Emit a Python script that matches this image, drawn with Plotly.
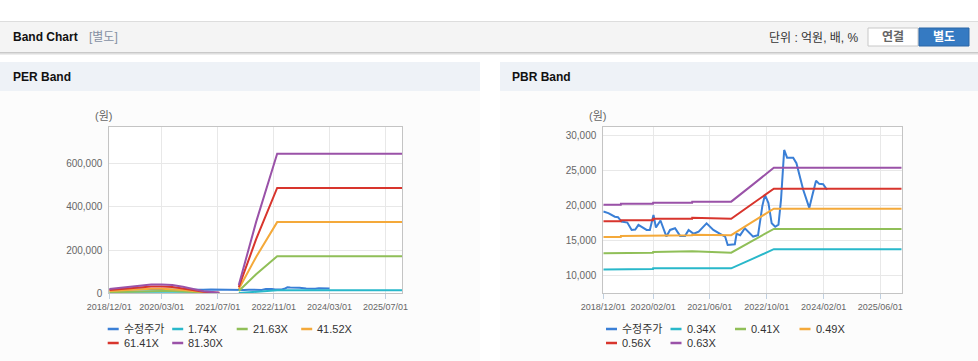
import plotly.graph_objects as go

W, H = 978, 361


def px(x):
    return x / W


def py(y):
    return 1 - y / H


# ---------------- data ----------------
price_dates = [
    "2018-12-01", "2019-01-13", "2019-03-10", "2019-04-06", "2019-05-06", "2019-06-25",
    "2019-08-01", "2019-09-01", "2019-09-28", "2019-11-10", "2019-12-07", "2020-01-04",
    "2020-02-04", "2020-02-25", "2020-04-04", "2020-05-25", "2020-06-25", "2020-08-07",
    "2020-09-19", "2020-11-01", "2020-12-01", "2021-01-13", "2021-02-25", "2021-05-04",
    "2021-07-01", "2021-08-28", "2021-10-10", "2021-11-01", "2021-12-04", "2022-01-01",
    "2022-01-16", "2022-02-16", "2022-03-28", "2022-04-25", "2022-06-07", "2022-07-19",
    "2022-08-25", "2022-09-16", "2022-10-16", "2022-11-13", "2022-12-13", "2023-01-10",
    "2023-02-01", "2023-02-28", "2023-03-25", "2023-05-16", "2023-06-13", "2023-08-10",
    "2023-10-01", "2023-10-28", "2023-11-28", "2023-12-25", "2024-01-28", "2024-03-01",
]
price_values = [
    19200, 18950, 18450, 18370, 17750, 17600,
    16550, 16600, 17270, 16800, 16550, 16550,
    18700, 16900, 17900, 15600, 16550, 16800,
    15700, 15700, 16550, 16000, 16300, 17500,
    16550, 16000, 15600, 14400, 14500, 14500,
    16000, 15800, 16800, 16300, 15600, 15800,
    20000, 21560, 20400, 17500, 17000, 17300,
    20900, 28000, 26900, 26900, 26100, 22300,
    19700, 21560, 23600, 23150, 23100, 22300,
]

# PER band (원)
per_band_dates = [
    "2018-12-01", "2019-03-01", "2019-06-01", "2019-09-01", "2019-12-01", "2020-03-01",
    "2020-06-01", "2020-09-01", "2020-12-01", "2021-03-01", "2021-06-01", "2021-07-15",
    "2021-10-01", "2022-01-01", "2022-06-01", "2022-12-01", "2025-12-01",
]
per_174x = [430, 560, 680, 810, 880, 880, 810, 640, 430, 210, 110, 60,
            None, 820, 7000, 13800, 13800]
per_2163x = [5300, 6900, 8500, 10100, 10900, 10900, 10100, 8000, 5300, 2700, 1300, 800,
             None, 10200, 88000, 171500, 171500]
per_4152x = [10200, 13300, 16300, 19400, 20900, 20900, 19400, 15300, 10200, 5100, 2600, 1500,
             None, 19500, 168000, 329000, 329000]
per_6141x = [15100, 19600, 24200, 28700, 31000, 31000, 28700, 22700, 15100, 7600, 3800, 2300,
             None, 28900, 250000, 487000, 487000]
per_8130x = [20000, 26000, 32000, 38000, 41000, 41000, 38000, 30000, 20000, 10000, 5000, 3000,
             None, 38200, 330000, 645000, 645000]

# PBR band (원)
pbr_band_dates = [
    "2018-12-01", "2019-04-30", "2019-05-01", "2020-01-31", "2020-02-01", "2020-12-31",
    "2021-01-01", "2021-12-01", "2022-06-01", "2022-12-01", "2025-12-01",
]
pbr_034x = [10900, 10900, 10950, 10950, 11050, 11050, 11100, 11050, 12400, 13800, 13800]
pbr_041x = [13200, 13200, 13300, 13300, 13400, 13400, 13500, 13300, 15000, 16700, 16700]
pbr_049x = [15550, 15550, 15700, 15700, 15800, 15800, 15850, 15800, 17700, 19600, 19600]
pbr_056x = [17800, 17800, 17950, 17950, 18150, 18150, 18300, 18150, 20300, 22450, 22450]
pbr_063x = [20150, 20150, 20300, 20300, 20450, 20450, 20600, 20600, 23000, 25450, 25450]

per_series_names = ["1.74X", "21.63X", "41.52X", "61.41X", "81.30X"]
pbr_series_names = ["0.34X", "0.41X", "0.49X", "0.56X", "0.63X"]
price_name = "수정주가"

per_tick_dates = ["2018-12-01", "2020-03-01", "2021-07-01", "2022-11-01", "2024-03-01", "2025-07-01"]
per_tick_text = ["2018/12/01", "2020/03/01", "2021/07/01", "2022/11/01", "2024/03/01", "2025/07/01"]
pbr_tick_dates = ["2018-12-01", "2020-02-01", "2021-06-01", "2022-10-01", "2024-02-01", "2025-06-01"]
pbr_tick_text = ["2018/12/01", "2020/02/01", "2021/06/01", "2022/10/01", "2024/02/01", "2025/06/01"]
per_y_ticks = [0, 200000, 400000, 600000]
pbr_y_ticks = [10000, 15000, 20000, 25000, 30000]

colors = {
    "price": "#3a7fd6",
    "b1": "#29b8ca",
    "b2": "#90bf58",
    "b3": "#f4a93a",
    "b4": "#d8352d",
    "b5": "#9a52a8",
}
band_colors = [colors["b1"], colors["b2"], colors["b3"], colors["b4"], colors["b5"]]

FONT = "Arial, 'Liberation Sans', 'Noto Sans CJK KR', sans-serif"

fig = go.Figure()


def add_chart(xa, ya, names, bands, dates):
    fig.add_trace(go.Scatter(x=price_dates, y=price_values, name=price_name, mode="lines",
                             line=dict(color=colors["price"], width=2), xaxis=xa, yaxis=ya,
                             showlegend=False))
    for i, (nm, vals) in enumerate(zip(names, bands)):
        fig.add_trace(go.Scatter(x=dates, y=vals, name=nm, mode="lines",
                                 line=dict(color=band_colors[i], width=2), xaxis=xa, yaxis=ya,
                                 showlegend=False))


add_chart("x", "y", per_series_names, [per_174x, per_2163x, per_4152x, per_6141x, per_8130x],
          per_band_dates)
add_chart("x2", "y2", pbr_series_names, [pbr_034x, pbr_041x, pbr_049x, pbr_056x, pbr_063x],
          pbr_band_dates)

axis_common = dict(showline=True, linecolor="#c4c4c4", linewidth=1, mirror=True,
                   showgrid=True, gridcolor="#e8e8e8", gridwidth=1, zeroline=False,
                   fixedrange=True, automargin=False)
xcommon = dict(type="date", ticks="outside", ticklen=5, tickcolor="#c0d0e0",
               tickfont=dict(size=9, color="#666666", family=FONT), **axis_common)
ycommon = dict(ticks="", tickformat=",", tickfont=dict(size=10, color="#666666", family=FONT),
               ticklabelstandoff=4, **axis_common)

shapes = []
annotations = []


def rect(x0, y0, x1, y1, fill, line_color=None, lw=0):
    shapes.append(dict(type="rect", xref="paper", yref="paper", x0=px(x0), x1=px(x1),
                       y0=py(y1), y1=py(y0), fillcolor=fill, layer="below",
                       line=dict(color=line_color or fill, width=lw)))


def hline(x0, x1, y, color, lw=1, layer="below"):
    shapes.append(dict(type="line", xref="paper", yref="paper", x0=px(x0), x1=px(x1),
                       y0=py(y), y1=py(y), layer=layer, line=dict(color=color, width=lw)))


def text(x, y, s, size=12, color="#333333", bold=False, anchor="left"):
    annotations.append(dict(xref="paper", yref="paper", x=px(x), y=py(y),
                            text=("<b>%s</b>" % s) if bold else s,
                            showarrow=False, xanchor=anchor, yanchor="middle",
                            font=dict(size=size, color=color, family=FONT)))


# header bar
rect(0, 21, 978, 52, "#f4f4f4")
hline(0, 978, 21.5, "#dddddd")
hline(0, 978, 52.5, "#c9c9c9")
hline(0, 978, 53.5, "#dedede")
hline(0, 978, 54.5, "#ededed")
# panels
rect(0, 91, 480, 361, "#fcfcfc")
rect(500, 91, 978, 361, "#fcfcfc")
rect(0, 62, 480, 91, "#eef2f7")
rect(500, 62, 978, 91, "#eef2f7")
# plot area backgrounds
rect(109.3, 126.7, 402.3, 293.3, "#ffffff")
rect(603.3, 126.7, 901.7, 293.3, "#ffffff")
# buttons
rect(868, 28, 918, 46, "#ffffff", "#c8c8c8", 1)
rect(919, 28, 969, 46, "#357ac2", "#2c67a6", 1)

text(11, 37, "Band Chart", 12, "#111111", True)
text(87, 37, "[별도]", 12, "#8590a3")
text(861, 38, "단위 : 억원, 배, %", 12, "#333333", anchor="right")
text(893, 37, "연결", 12, "#666666", True, "center")
text(944, 37, "별도", 12, "#ffffff", True, "center")
text(11, 77, "PER Band", 12, "#111111", True)
text(510, 77, "PBR Band", 12, "#111111", True)
text(103, 116, "(원)", 11, "#666666", anchor="center")
text(597, 116, "(원)", 11, "#666666", anchor="center")


# legends (two rows of four items under each chart)
def legend_rows(x_text0, names):
    entries = [(price_name, colors["price"])] + list(zip(names, band_colors))
    for k, (nm, col) in enumerate(entries):
        row, c = divmod(k, 4)
        tx = x_text0 + c * 64.5
        ty = 329 + row * 14
        hline(tx - 14, tx - 3, ty, col, 2.5, layer="above")
        text(tx, ty, nm, 11, "#333333")


legend_rows(121.7, per_series_names)
legend_rows(620, pbr_series_names)

fig.update_layout(
    width=W, height=H, autosize=False,
    margin=dict(l=0, r=0, t=0, b=0, pad=0),
    paper_bgcolor="#ffffff", plot_bgcolor="rgba(0,0,0,0)",
    font=dict(family=FONT),
    showlegend=False,
    xaxis=dict(domain=[px(109.3), px(402.3)], range=["2018-12-01", "2025-11-24"],
               tickvals=per_tick_dates, ticktext=per_tick_text, anchor="y", **xcommon),
    yaxis=dict(domain=[py(293.3), py(126.7)], range=[0, 770000], tickvals=per_y_ticks,
               anchor="x", **ycommon),
    xaxis2=dict(domain=[px(603.3), px(901.7)], range=["2018-12-01", "2025-12-01"],
                tickvals=pbr_tick_dates, ticktext=pbr_tick_text, anchor="y2", **xcommon),
    yaxis2=dict(domain=[py(293.3), py(126.7)], range=[7480, 31330], tickvals=pbr_y_ticks,
                anchor="x2", **ycommon),
    shapes=shapes,
    annotations=annotations,
    hovermode=False,
)

fig.write_html("out.html", config={"displayModeBar": False},
               post_script="document.body.style.margin='0px';")
